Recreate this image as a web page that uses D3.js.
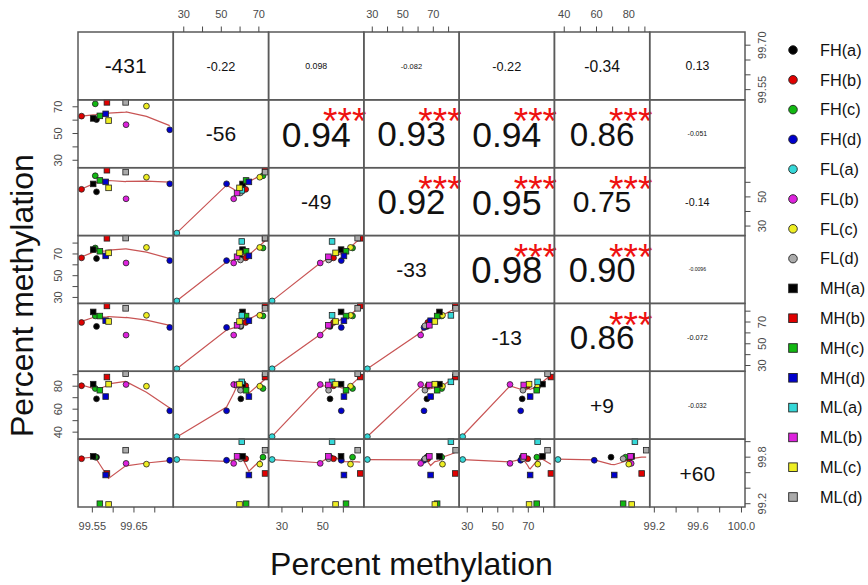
<!DOCTYPE html>
<html>
<head>
<meta charset="utf-8">
<script src="https://cdn.jsdelivr.net/npm/d3@7"></script>
<style>
  body { margin: 0; background: #fff; }
  text { font-family: "Liberation Sans", Arial, Helvetica, sans-serif; }
</style>
</head>
<body>
<svg id="chart" width="868" height="585"></svg>
<script>
// CpG sites (position relative to TSS), one variable per site
const siteNames = ["-431", "-56", "-49", "-33", "-13", "+9", "+60"];

// Samples
const sampleNames = ["FH(a)", "FH(b)", "FH(c)", "FH(d)", "FL(a)", "FL(b)", "FL(c)", "FL(d)",
                     "MH(a)", "MH(b)", "MH(c)", "MH(d)", "ML(a)", "ML(b)", "ML(c)", "ML(d)"];
const sampleShapes = ["circle", "circle", "circle", "circle", "circle", "circle", "circle", "circle",
                      "square", "square", "square", "square", "square", "square", "square", "square"];
const sampleColors = ["#000000", "#e00000", "#12b812", "#0000cc", "#35d8d8", "#dd22dd", "#eeee22", "#aaaaaa",
                      "#000000", "#e00000", "#12b812", "#0000cc", "#35d8d8", "#dd22dd", "#eeee22", "#aaaaaa"];

// Percent methylation per site, in sample order (null = not measured)
const site431 = [99.560, 99.524, 99.557, 99.736, null, 99.631, 99.680, null,
                 99.552, 99.585, 99.568, 99.582, null, null, 99.589, 99.630];
const site56  = [60.4, 63.0, 72.2, 52.8, 26.3, 56.6, 70.5, 60.2,
                 61.3, 73.3, 63.2, 64.7, 60.9, 58.4, 59.7, 73.3];
const site49  = [53.5, 55.2, 64.5, 59.0, 25.2, 48.7, 63.5, 52.8,
                 58.9, 68.3, 61.3, 60.3, 54.5, 52.7, 56.2, 67.0];
const site33  = [65.8, 66.4, 75.5, 63.9, 26.8, 61.7, 76.0, 64.5,
                 74.0, 84.4, 72.5, 68.2, 81.5, 67.4, 71.0, 84.6];
const site13  = [66.0, 69.6, 75.6, 65.0, 27.0, 58.0, 76.2, 66.5,
                 79.3, 84.8, 75.5, 71.2, 76.1, 67.0, 70.5, 82.6];
const site9   = [69.0, 80.4, 78.0, 58.6, 36.1, 81.5, 80.0, 76.5,
                 81.8, 88.0, 76.5, 71.0, 83.8, 81.1, 81.8, 90.8];
const site60  = [99.80, 99.78, 99.80, 99.76, 99.77, 99.72, 99.71, 99.78,
                 99.81, 99.59, 99.20, 99.57, 100.0, 99.81, 99.19, 99.89];
const siteValues = [site431, site56, site49, site33, site13, site9, site60];

// Pearson correlations (upper triangle, row by row) and significance stars
const corrRow1 = [-0.22, 0.098, -0.082, -0.22, -0.34, 0.13];
const corrRow2 = [0.94, 0.93, 0.94, 0.86, -0.051];
const corrRow3 = [0.92, 0.95, 0.75, -0.14];
const corrRow4 = [0.98, 0.90, -0.0096];
const corrRow5 = [0.86, -0.072];
const corrRow6 = [-0.032];
const corrRows = [corrRow1, corrRow2, corrRow3, corrRow4, corrRow5, corrRow6];
const starRow1 = ["", "", "", "", "", ""];
const starRow2 = ["***", "***", "***", "***", ""];
const starRow3 = ["***", "***", "***", ""];
const starRow4 = ["***", "***", ""];
const starRow5 = ["***", ""];
const starRow6 = [""];
const starRows = [starRow1, starRow2, starRow3, starRow4, starRow5, starRow6];

// Axis ticks per site, and which ticks carry a label on each side
const siteTicks = [[99.55, 99.60, 99.65, 99.70], [30, 40, 50, 60, 70], [30, 40, 50, 60],
                   [30, 40, 50, 60, 70, 80], [30, 40, 50, 60, 70, 80], [40, 50, 60, 70, 80, 90],
                   [99.2, 99.4, 99.6, 99.8, 100.0]];
const tickDecimals = [2, 0, 0, 0, 0, 0, 1];
const topLabels    = {1: [30, 50, 70], 3: [30, 50, 70], 5: [40, 60, 80]};
const bottomLabels = {0: [99.55, 99.65], 2: [30, 50], 4: [30, 50, 70], 6: [99.2, 99.6, 100.0]};
const leftLabels   = {1: [30, 50, 70], 3: [30, 50, 70], 5: [40, 60, 80]};
const rightLabels  = {0: [99.55, 99.70], 2: [30, 50], 4: [30, 50, 70], 6: [99.2, 99.8]};

const axisTitle = "Percent methylation";

// ---------- lowess smoother (Cleveland 1979, as in R's stats::lowess) ----------
function lowess(xIn, yIn, f = 2 / 3, nsteps = 3) {
  const order = d3.range(xIn.length).sort((a, b) => xIn[a] - xIn[b]);
  const n = order.length;
  const x = [0].concat(order.map(i => xIn[i]));
  const y = [0].concat(order.map(i => yIn[i]));
  const ys = new Array(n + 1).fill(0);
  const rw = new Array(n + 1).fill(1);
  const res = new Array(n + 1).fill(0);
  if (n < 2) return [[x[1], y[1]]];
  const delta = 0.01 * (x[n] - x[1]);
  const ns = Math.max(2, Math.min(n, Math.floor(f * n + 1e-7)));

  function lowest(xs, nleft, nright, userw) {
    const range = x[n] - x[1];
    const h = Math.max(xs - x[nleft], x[nright] - xs);
    const h9 = 0.999 * h, h1 = 0.001 * h;
    const w = new Array(n + 1).fill(0);
    let a = 0, j = nleft;
    while (j <= n) {
      w[j] = 0;
      const r = Math.abs(x[j] - xs);
      if (r <= h9) {
        w[j] = r <= h1 ? 1 : Math.pow(1 - Math.pow(r / h, 3), 3);
        if (userw) w[j] *= rw[j];
        a += w[j];
      } else if (x[j] > xs) break;
      j++;
    }
    const nrt = j - 1;
    if (a <= 0) return null;
    for (j = nleft; j <= nrt; j++) w[j] /= a;
    if (h > 0) {
      a = 0;
      for (j = nleft; j <= nrt; j++) a += w[j] * x[j];
      let b = xs - a, c = 0;
      for (j = nleft; j <= nrt; j++) c += w[j] * (x[j] - a) * (x[j] - a);
      if (Math.sqrt(c) > 0.001 * range) {
        b /= c;
        for (j = nleft; j <= nrt; j++) w[j] *= (b * (x[j] - a) + 1);
      }
    }
    let s = 0;
    for (j = nleft; j <= nrt; j++) s += w[j] * y[j];
    return s;
  }

  let iter = 1;
  while (iter <= nsteps + 1) {
    let nleft = 1, nright = ns, last = 0, i = 1;
    for (;;) {
      if (nright < n) {
        const d1 = x[i] - x[nleft], d2 = x[nright + 1] - x[i];
        if (d1 > d2) { nleft++; nright++; continue; }
      }
      const v = lowest(x[i], nleft, nright, iter > 1);
      ys[i] = v === null ? y[i] : v;
      if (last < i - 1) {
        const denom = x[i] - x[last];
        for (let j = last + 1; j < i; j++) {
          const alpha = (x[j] - x[last]) / denom;
          ys[j] = alpha * ys[i] + (1 - alpha) * ys[last];
        }
      }
      last = i;
      const cut = x[last] + delta;
      for (i = last + 1; i <= n; i++) {
        if (x[i] > cut) break;
        if (x[i] === x[last]) { ys[i] = ys[last]; last = i; }
      }
      i = Math.max(last + 1, i - 1);
      if (last >= n) break;
    }
    for (let k = 1; k <= n; k++) res[k] = y[k] - ys[k];
    let sc = 0;
    for (let k = 1; k <= n; k++) sc += Math.abs(res[k]);
    sc /= n;
    if (iter > nsteps) break;
    const ar = res.slice(1).map(Math.abs).sort((a, b) => a - b);
    const m1 = Math.floor(n / 2);
    const cmad = (n % 2 === 0) ? 3 * (ar[m1] + ar[n - m1 - 1]) : 6 * ar[m1];
    if (cmad < 1e-7 * sc) break;
    const c9 = 0.999 * cmad, c1 = 0.001 * cmad;
    for (let k = 1; k <= n; k++) {
      const r = Math.abs(res[k]);
      rw[k] = r <= c1 ? 1 : (r <= c9 ? Math.pow(1 - Math.pow(r / cmad, 2), 2) : 0);
    }
    iter++;
  }
  return d3.range(1, n + 1).map(k => [x[k], ys[k]]);
}

// ---------- layout ----------
const svg = d3.select("#chart");
svg.append("rect").attr("width", 868).attr("height", 585).attr("fill", "#fff");

const gridLeft = 78, gridRight = 745, gridTop = 32, gridBottom = 507;
const nVar = siteNames.length;
const pw = (gridRight - gridLeft) / nVar;
const ph = (gridBottom - gridTop) / nVar;
const borderColor = "#5a5a5a";
const axisColor = "#4a4a4a";

// each site's scale spans its data range widened by 4% on both ends
const domains = siteValues.map(v => {
  const ext = d3.extent(v.filter(d => d !== null));
  const pad = 0.04 * (ext[1] - ext[0]);
  return [ext[0] - pad, ext[1] + pad];
});
const xScales = domains.map((d, j) => d3.scaleLinear().domain(d).range([gridLeft + j * pw, gridLeft + (j + 1) * pw]));
const yScales = domains.map((d, i) => d3.scaleLinear().domain(d).range([gridTop + (i + 1) * ph, gridTop + i * ph]));

const smoothLine = d3.line();

for (let i = 0; i < nVar; i++) {
  for (let j = 0; j < nVar; j++) {
    const x0 = gridLeft + j * pw, y0 = gridTop + i * ph;
    const cell = svg.append("g");
    if (i === j) {
      cell.append("text")
        .attr("x", x0 + pw / 2).attr("y", y0 + ph / 2).attr("dy", "0.36em")
        .attr("text-anchor", "middle").attr("font-size", 21).attr("fill", "#111")
        .text(siteNames[i]);
    } else if (i < j) {
      const r = corrRows[i][j - i - 1];
      const stars = starRows[i][j - i - 1];
      const label = d3.format(".2r")(r).replace("\u2212", "-");
      const t = cell.append("text")
        .attr("x", x0 + pw / 2).attr("y", y0 + ph / 2).attr("dy", "0.36em")
        .attr("text-anchor", "middle").attr("fill", "#111")
        .attr("font-size", 100).text(label);
      const w100 = t.node().getComputedTextLength();
      const fullSize = 100 * 0.76 * pw / w100;
      t.attr("font-size", fullSize * (Math.abs(r) + 0.3) / 1.3);
      if (stars) {
        cell.append("text")
          .attr("x", x0 + 0.8 * pw).attr("y", y0 + 0.2 * ph).attr("dy", "0.56em")
          .attr("text-anchor", "middle").attr("fill", "#ee1111")
          .attr("font-size", fullSize).text(stars);
      }
    } else {
      const xs = xScales[j], ysc = yScales[i];
      const pts = sampleNames.map((s, k) => ({k, x: siteValues[j][k], y: siteValues[i][k]}))
        .filter(p => p.x !== null && p.y !== null);
      const fit = lowess(pts.map(p => p.x), pts.map(p => p.y));
      cell.append("path")
        .attr("d", smoothLine(fit.map(p => [xs(p[0]), ysc(p[1])])))
        .attr("fill", "none").attr("stroke", "#c85454").attr("stroke-width", 1.2);
      pts.forEach(p => {
        const cx = xs(p.x), cy = ysc(p.y);
        if (sampleShapes[p.k] === "circle") {
          cell.append("circle").attr("cx", cx).attr("cy", cy).attr("r", 2.9)
            .attr("fill", sampleColors[p.k]).attr("stroke", "#222").attr("stroke-width", 0.8);
        } else {
          cell.append("rect").attr("x", cx - 2.8).attr("y", cy - 2.8).attr("width", 5.6).attr("height", 5.6)
            .attr("fill", sampleColors[p.k]).attr("stroke", "#222").attr("stroke-width", 0.8);
        }
      });
    }
    cell.append("rect")
      .attr("x", x0).attr("y", y0).attr("width", pw).attr("height", ph)
      .attr("fill", "none").attr("stroke", borderColor).attr("stroke-width", 1.5);
  }
}

// ---------- axes on the outer edges ----------
const fmt = k => d3.format("." + tickDecimals[k] + "f");

function drawTicks(k, side) {
  const labels = {top: topLabels, bottom: bottomLabels, left: leftLabels, right: rightLabels}[side][k];
  const horizontal = side === "top" || side === "bottom";
  const scale = horizontal ? xScales[k] : yScales[k];
  const edge = {top: gridTop, bottom: gridBottom, left: gridLeft, right: gridRight}[side];
  const dir = (side === "top" || side === "left") ? -1 : 1;
  const g = svg.append("g");
  const ticks = siteTicks[k];
  ticks.forEach(v => {
    const p = scale(v);
    if (horizontal) {
      g.append("line").attr("x1", p).attr("x2", p).attr("y1", edge).attr("y2", edge + dir * 5.5)
        .attr("stroke", axisColor).attr("stroke-width", 1);
    } else {
      g.append("line").attr("y1", p).attr("y2", p).attr("x1", edge).attr("x2", edge + dir * 5.5)
        .attr("stroke", axisColor).attr("stroke-width", 1);
    }
  });
  labels.forEach(v => {
    const p = scale(v);
    const t = g.append("text").attr("font-size", 11).attr("fill", axisColor)
      .attr("text-anchor", "middle").text(fmt(k)(v));
    if (side === "top") t.attr("x", p).attr("y", edge - 14);
    if (side === "bottom") t.attr("x", p).attr("y", edge + 23);
    if (side === "left") t.attr("transform", `translate(${edge - 16},${p}) rotate(-90)`);
    if (side === "right") t.attr("transform", `translate(${edge + 20.5},${p}) rotate(-90)`);
  });
}
Object.keys(topLabels).forEach(k => drawTicks(+k, "top"));
Object.keys(bottomLabels).forEach(k => drawTicks(+k, "bottom"));
Object.keys(leftLabels).forEach(k => drawTicks(+k, "left"));
Object.keys(rightLabels).forEach(k => drawTicks(+k, "right"));

// ---------- axis titles ----------
svg.append("text")
  .attr("x", (gridLeft + gridRight) / 2).attr("y", 575)
  .attr("text-anchor", "middle").attr("font-size", 32).attr("fill", "#111")
  .text(axisTitle);
svg.append("text")
  .attr("transform", "translate(33,437) rotate(-90)")
  .attr("text-anchor", "start").attr("font-size", 32).attr("fill", "#111")
  .text(axisTitle);

// ---------- legend ----------
const legend = svg.append("g");
sampleNames.forEach((name, k) => {
  const ly = 50 + 29.8 * k;
  if (sampleShapes[k] === "circle") {
    legend.append("circle").attr("cx", 793).attr("cy", ly).attr("r", 4.3)
      .attr("fill", sampleColors[k]).attr("stroke", "#222").attr("stroke-width", 0.9);
  } else {
    legend.append("rect").attr("x", 793 - 4.3).attr("y", ly - 4.3).attr("width", 8.6).attr("height", 8.6)
      .attr("fill", sampleColors[k]).attr("stroke", "#222").attr("stroke-width", 0.9);
  }
  legend.append("text").attr("x", 820).attr("y", ly).attr("dy", "0.36em")
    .attr("font-size", 16.3).attr("fill", "#111").text(name);
});
</script>
</body>
</html>
